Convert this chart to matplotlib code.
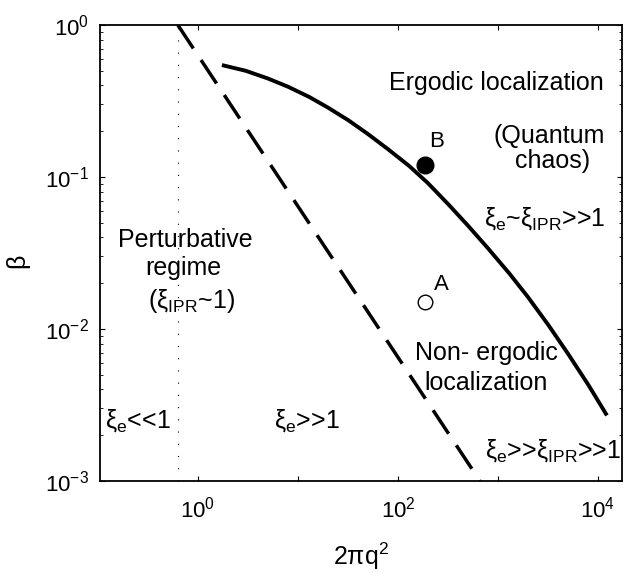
import math
import matplotlib
matplotlib.use("Agg")
import matplotlib.pyplot as plt
from matplotlib.ticker import LogLocator, FixedLocator, NullLocator, LogFormatterMathtext, FuncFormatter

plt.rcParams['font.family'] = ['Liberation Sans', 'DejaVu Sans']
plt.rcParams['mathtext.fontset'] = 'custom'
plt.rcParams['mathtext.rm'] = 'Liberation Sans'
plt.rcParams['mathtext.it'] = 'Liberation Sans'
plt.rcParams['mathtext.default'] = 'rm'

# boundary curves
solid_x = [1.74, 3, 5, 8, 13, 20, 32, 50, 80, 130, 200, 320, 500, 800, 1300, 2000, 3200, 5000, 8000, 12300]
solid_y = [0.545, 0.50, 0.445, 0.392, 0.336, 0.286, 0.236, 0.192, 0.152, 0.118, 0.091, 0.066,
           0.048, 0.0338, 0.0232, 0.0162, 0.0106, 0.0069, 0.0043, 0.0027]
dash_x = [0.63, 661]
dash_y = [1.0, 1e-3]
dotted_x = 0.63

# the two marked points
pt_a = (186, 0.0151)
pt_b = (186, 0.12)

xlim = (0.105, 1.74e4)
ylim = (1e-3, 1.0)
x_major = [1, 10, 100, 1000, 10000]
x_labelled = [1, 100, 10000]

fig = plt.figure(figsize=(6.24, 5.73), dpi=100)
ax = fig.add_axes([100/624, 1-481/573, 522/624, 456/573])
ax.set_xscale('log')
ax.set_yscale('log')

ax.plot(solid_x, solid_y, color='black', lw=2.8, solid_capstyle='butt')
ax.plot(dash_x, dash_y, color='black', lw=2.5, dashes=(8.1, 4.0))
ax.plot([dotted_x, dotted_x], ylim, color='black', lw=0.8, linestyle=(0, (1, 10)))

ax.plot(*pt_b, 'o', color='black', ms=12)
ax.plot(*pt_a, 'o', mfc='white', mec='black', mew=1.0, ms=10.5)

fs = 18
kw = dict(fontsize=fs, ha='center', va='baseline')
ax.text(245, 0.157, 'B', fontsize=16, ha='center', va='baseline')
ax.text(275, 0.0181, 'A', fontsize=16, ha='center', va='baseline')

ax.text(955, 0.373, 'Ergodic localization', **kw)
ax.text(3236, 0.167, '(Quantum', **kw)
ax.text(3548, 0.115, 'chaos)', **kw)
ax.text(2951, 0.0476, r'$ξ_\mathrm{e}$~$ξ_\mathrm{IPR}$>>1', **kw)
ax.text(0.74, 0.0346, 'Perturbative', **kw)
ax.text(0.71, 0.0225, 'regime', **kw)
ax.text(0.87, 0.0138, r'($ξ_\mathrm{IPR}$~1)', **kw)
ax.text(759, 0.0063, 'Non- ergodic', **kw)
ax.text(759, 0.00397, 'localization', **kw)
ax.text(0.251, 0.00223, r'$ξ_\mathrm{e}$<<1', **kw)
ax.text(12.3, 0.00223, r'$ξ_\mathrm{e}$>>1', **kw)
ax.text(0.998, 0.00142, r'$ξ_\mathrm{e}$>>$ξ_\mathrm{IPR}$>>1', fontsize=fs,
        ha='right', va='baseline', transform=ax.get_yaxis_transform())

ax.set_xlim(*xlim)
ax.set_ylim(*ylim)
ax.xaxis.set_major_locator(FixedLocator(x_major))
ax.xaxis.set_minor_locator(NullLocator())
ax.xaxis.set_major_formatter(FuncFormatter(
    lambda v, p: r'$\mathdefault{10^{%d}}$' % round(math.log10(v)) if v in x_labelled else ''))
ax.yaxis.set_major_locator(LogLocator(base=10))
ax.yaxis.set_minor_locator(LogLocator(base=10, subs=range(2, 10)))
ax.yaxis.set_major_formatter(LogFormatterMathtext())

ax.tick_params(which='both', direction='in', top=True, right=True, labelsize=16)
ax.tick_params(which='major', length=3.6, width=0.8)
ax.tick_params(which='minor', length=2.2, width=0.6)
ax.tick_params(axis='x', pad=11)
ax.tick_params(axis='y', pad=8)
for s in ax.spines.values():
    s.set_linewidth(1.3)

ax.set_xlabel(r'2$π$q$^2$', fontsize=18)
ax.xaxis.set_label_coords(0.5, -0.13)
ax.set_ylabel(r'$β$', fontsize=18)
ax.yaxis.set_label_coords(-0.128, 0.48)

fig.savefig('out.png', dpi=100)
